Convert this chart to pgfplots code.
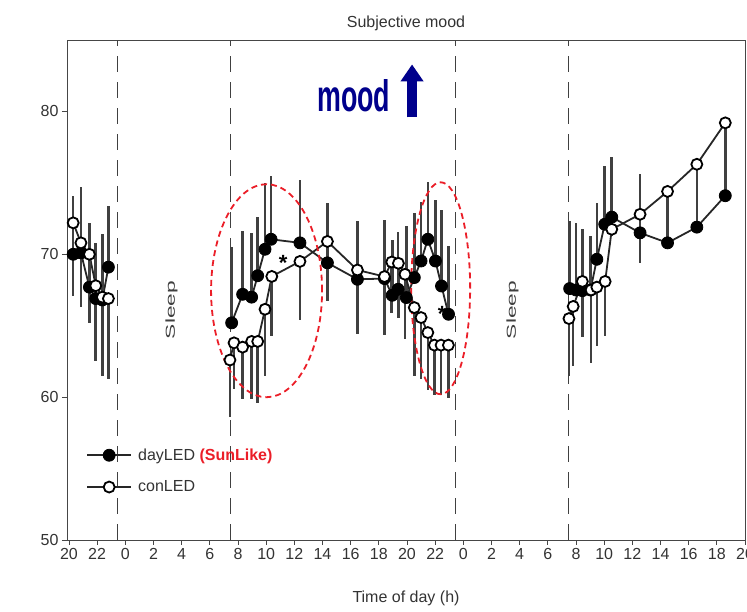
\documentclass[border=0pt]{standalone}
\usepackage{pgfplots}
\pgfplotsset{compat=1.18}
\usepackage{pgfplotstable}
\usepackage{fontspec}
\setmainfont{Liberation Sans}
\usetikzlibrary{arrows.meta}
\definecolor{moodblue}{RGB}{0,0,140}
\definecolor{ellred}{RGB}{235,30,40}
\definecolor{axgray}{RGB}{70,70,70}

\pgfplotstableread{
x y e
20.3 70.0 4.1
20.85 70.1 4.6
21.45 67.7 4.5
21.9 66.9 3.9
22.37 66.8 4.6
22.8 69.1 4.3
nan nan nan
31.55 65.2 5.3
32.33 67.2 4.4
32.97 67.0 4.5
33.4 68.5 4.1
33.92 70.35 4.65
34.35 71.05 4.45
36.4 70.8 4.4
38.35 69.4 4.2
40.48 68.25 4.05
42.4 68.3 4.1
42.95 67.13 3.9
43.37 67.55 4.0
43.95 66.97 5.0
44.52 68.37 4.5
45.0 69.53 4.1
45.48 71.05 4.0
46.02 69.53 4.3
46.45 67.78 5.3
46.95 65.8 4.8
nan nan nan
55.55 67.6 4.7
56.0 67.5 4.7
56.45 67.45 4.3
57.03 67.5 3.8
57.48 69.65 3.95
58.04 72.1 4.1
58.54 72.6 4.2
60.55 71.5 4.1
62.5 70.8 3.6
64.58 71.9 4.4
66.6 74.1 5.1
}\daytab

\pgfplotstableread{
x y e
20.3 72.2 5.1
20.85 70.8 4.5
21.45 70.0 4.8
21.9 67.8 5.3
22.37 67.0 5.5
22.8 66.9 5.6
nan nan nan
31.43 62.6 4.0
31.72 63.8 3.2
32.33 63.5 3.6
32.97 63.9 4.0
33.4 63.9 4.3
33.92 66.15 4.65
34.4 68.45 4.15
36.4 69.5 4.1
38.35 70.9 4.2
40.48 68.9 4.5
42.4 68.44 4.1
42.92 69.46 3.6
43.39 69.37 3.8
43.86 68.6 4.5
44.52 66.27 4.8
45.0 65.57 4.3
45.48 64.52 4.0
45.95 63.64 3.5
46.42 63.64 3.5
46.94 63.64 3.7
nan nan nan
55.5 65.5 4.0
55.8 66.35 4.2
56.45 68.1 3.9
57.07 67.5 5.1
57.48 67.7 4.1
58.07 68.1 3.8
58.54 71.75 0.5
60.55 72.8 3.4
62.5 74.4 3.6
64.58 76.3 4.4
66.6 79.2 5.1
}\contab

\begin{document}
\begin{tikzpicture}
\begin{axis}[
  name=ax,
  scale only axis,
  width=678pt, height=500pt,
  xmin=19.86, xmax=68.0,
  ymin=50, ymax=85,
  axis line style={axgray, line width=0.9pt},
  tick style={axgray, line width=0.9pt},
  tick align=outside,
  major tick length=5pt,
  xtick pos=bottom, ytick pos=left,
  xtick={20,22,...,68},
  xticklabels={20,22,0,2,4,6,8,10,12,14,16,18,20,22,0,2,4,6,8,10,12,14,16,18,20},
  ytick={50,60,70,80},
  /pgf/number format/assume math mode=true,
  ticklabel style={font=\fontsize{16}{19}\selectfont, text=black!80},
  xlabel={Time of day (h)},
  xlabel style={at={(rel axis cs:0.5,0)}, anchor=base, yshift=-63pt, font=\fontsize{16}{19}\selectfont, text=black!80},
  unbounded coords=jump,
  legend style={at={(rel axis cs:0.028,0.195)}, anchor=north west, draw=none, fill=none,
    font=\fontsize{16}{19}\selectfont, text=black!80, row sep=7pt, cells={anchor=west}, inner sep=0pt,
    nodes={inner sep=6pt, xshift=4pt}},
  legend image code/.code={\draw[line width=2pt, mark repeat=2,mark phase=2] plot coordinates {(0pt,0pt) (22pt,0pt) (44pt,0pt)};},
  clip=false,
]
% sleep boundaries
\foreach \v in {23.45,31.45,47.45,55.45}{
  \edef\tmp{\noexpand\draw[black!75, line width=1pt, dash pattern=on 16pt off 10pt] (axis cs:\v,50) -- (axis cs:\v,85);}
  \tmp
}

\addplot[black!85, line width=1.8pt, mark=*, mark size=6pt, mark options={fill=black, draw=black, line width=0.8pt},
  error bars/.cd, y dir=plus, y explicit, error mark=none,
  error bar style={black!75, line width=2.6pt}]
  table[x=x, y=y, y error=e] {\daytab};
\addlegendentry{dayLED \textcolor{ellred}{\textbf{(SunLike)}}}

\addplot[black!85, line width=1.8pt, mark=*, mark size=5.5pt, mark options={fill=white, draw=black, line width=1.8pt},
  error bars/.cd, y dir=minus, y explicit, error mark=none,
  error bar style={black!75, line width=2.6pt}]
  table[x=x, y=y, y error=e] {\contab};
\addlegendentry{conLED}

% ellipses
\draw[ellred, line width=1.8pt, dash pattern=on 6pt off 4pt] (axis cs:34.03,67.45) ellipse [x radius=55.5pt, y radius=106.5pt];
\draw[ellred, line width=1.8pt, dash pattern=on 6pt off 4pt] (axis cs:46.39,67.62) ellipse [x radius=29.5pt, y radius=106pt];

% asterisks
\node[font=\fontsize{22}{24}\selectfont\bfseries] at (axis cs:35.2,69.4) {*};
\node[font=\fontsize{22}{24}\selectfont\bfseries] at (axis cs:46.5,65.8) {*};

% sleep labels
\node[rotate=90, font=\fontsize{13}{15}\selectfont, text=black!75] at (axis cs:27.28,66.1) {\scalebox{1.75}[1]{Sleep}};
\node[rotate=90, font=\fontsize{13}{15}\selectfont, text=black!75] at (axis cs:51.5,66.1) {\scalebox{1.75}[1]{Sleep}};

% mood annotation
\node[anchor=base west, inner sep=0pt, text=moodblue] at (axis cs:37.61,80.0) {\resizebox{73pt}{32pt}{\bfseries mood}};
\draw[moodblue, line width=10pt, -{Triangle[width=22pt,length=17pt]}] (axis cs:44.36,79.58) -- (axis cs:44.36,83.29);

% title
\node[anchor=base, font=\fontsize{16}{19}\selectfont, text=black!80] at (rel axis cs:0.5,1) [yshift=12pt] {Subjective mood};
\end{axis}
\pgfresetboundingbox
\path[use as bounding box] ([shift={(-67pt,-72pt)}]ax.south west) rectangle ([shift={(2pt,40pt)}]ax.north east);
\end{tikzpicture}
\end{document}
